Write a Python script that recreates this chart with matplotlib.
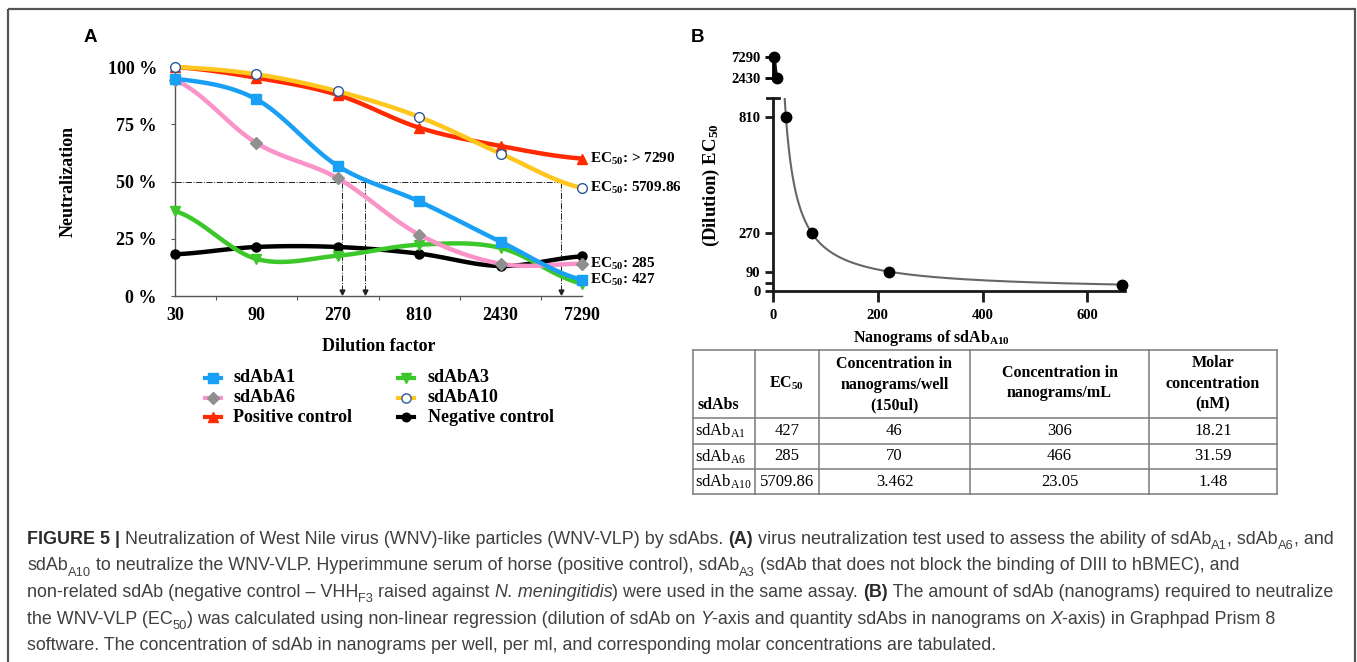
import matplotlib
matplotlib.use("Agg")
import matplotlib.pyplot as plt
import numpy as np
from matplotlib.patches import Rectangle

plt.rcParams["font.family"] = "Liberation Serif"
plt.rcParams["mathtext.fontset"] = "custom"
plt.rcParams["mathtext.rm"] = "Liberation Serif"
plt.rcParams["mathtext.bf"] = "Liberation Serif:bold"
plt.rcParams["mathtext.it"] = "Liberation Serif:italic"

W, H = 1357, 662

# ---- panel A data (percent neutralization per dilution) ----
dilutions = ["30", "90", "270", "810", "2430", "7290"]
sdAbA1 = [94.9, 85.9, 56.8, 41.3, 23.7, 7.1]
sdAbA6 = [94.2, 66.8, 51.4, 26.8, 14.1, 14.1]
sdAbA3 = [37.1, 16.2, 17.6, 22.4, 21.0, 5.4]
sdAbA10 = [100.0, 96.8, 89.4, 78.2, 62.2, 47.2]
pos_ctrl = [100.0, 95.3, 87.8, 73.5, 65.5, 60.0]
neg_ctrl = [18.2, 21.4, 21.4, 18.5, 13.1, 17.3]
ec50_drop_x = [2.05, 2.33, 4.74]   # where the 50 % lines drop to the axis (category units)

# ---- panel B data ----
b_nanograms = [666, 222, 74, 24.7, 8.2, 2.74]
b_dilution = [30, 90, 270, 810, 2430, 7290]

# ---- table ----
tbl_names = [r"sdAb$_{\mathrm{A1}}$", r"sdAb$_{\mathrm{A6}}$", r"sdAb$_{\mathrm{A10}}$"]
tbl_ec50 = ["427", "285", "5709.86"]
tbl_well = ["46", "70", "3.462"]
tbl_ml = ["306", "466", "23.05"]
tbl_molar = ["18.21", "31.59", "1.48"]


def smooth(y, n=24):
    # catmull-rom, like excel's smoothed lines
    p = np.asarray(y, float)
    pad = np.r_[p[0], p, p[-1]]
    xs, ys = [], []
    t = np.linspace(0, 1, n, endpoint=False)
    for i in range(len(p) - 1):
        p0, p1, p2, p3 = pad[i:i + 4]
        ys.append(0.5 * (2 * p1 + (p2 - p0) * t + (2 * p0 - 5 * p1 + 4 * p2 - p3) * t ** 2
                         + (3 * p1 - p0 - 3 * p2 + p3) * t ** 3))
        xs.append(i + t)
    xs.append([len(p) - 1])
    ys.append([p[-1]])
    return np.concatenate(xs), np.concatenate(ys)


fig = plt.figure(figsize=(W / 100, H / 100), dpi=100)
bg = fig.add_axes([0, 0, 1, 1])
bg.set_xlim(0, W)
bg.set_ylim(H, 0)
bg.axis("off")
bg.add_patch(Rectangle((8, 9), 1347, 700, fill=False, edgecolor="#555555", lw=1.6))

# ================= panel A =================
series = [
    ("sdAbA1", sdAbA1, "#19a0f5", "s", "#19a0f5", "#19a0f5", 7),
    ("sdAbA6", sdAbA6, "#f993c8", "D", "#8f8f8f", "#8f8f8f", 6.5),
    ("Positive control", pos_ctrl, "#ff2a00", "^", "#ff2a00", "#ff2a00", 7),
    ("sdAbA3", sdAbA3, "#3cc82a", "v", "#3cc82a", "#3cc82a", 7),
    ("sdAbA10", sdAbA10, "#ffc61e", "o", "white", "#2a5a9a", 7),
    ("Negative control", neg_ctrl, "#000000", "o", "#000000", "#000000", 6.5),
]
draw_order = [5, 3, 2, 4, 1, 0]

axA = fig.add_axes([175 / W, 1 - 296 / H, (582 - 175) / W, (296 - 67) / H])
axA.set_xlim(0, 5)
axA.set_ylim(0, 100)
for k in draw_order:
    name, vals, lc, m, mfc, mec, ms = series[k]
    sx, sy = smooth(vals)
    axA.plot(sx, sy, color=lc, lw=3.2, solid_capstyle="round", clip_on=False, zorder=3)
    axA.plot(range(len(vals)), vals, ls="none", marker=m, mfc=mfc, mec=mec, ms=ms,
             mew=1.0, clip_on=False, zorder=4)

# EC50 guide lines
axA.plot([0, max(ec50_drop_x)], [50, 50], ls="-.", color="#222222", lw=0.7, zorder=2)
for xd in ec50_drop_x:
    axA.plot([xd, xd], [50, 1.5], ls="-.", color="#222222", lw=0.7, zorder=2)
    axA.plot(xd, 1.8, marker="v", color="#222222", ms=3.5, zorder=2)

ec50_text = [(pos_ctrl, r"EC$_{\mathbf{50}}$: > 7290"), (sdAbA10, r"EC$_{\mathbf{50}}$: 5709.86"),
             (sdAbA6, r"EC$_{\mathbf{50}}$: 285"), (sdAbA1, r"EC$_{\mathbf{50}}$: 427")]
for vals, txt in ec50_text:
    axA.annotate(txt, (5, vals[-1]), xytext=(6, 0), textcoords="offset points",
                 fontsize=11, weight="bold", va="center", ha="left")

axA.spines[["top", "right"]].set_visible(False)
for s in ("left", "bottom"):
    axA.spines[s].set_color("#555555")
    axA.spines[s].set_linewidth(1.0)
axA.set_yticks([0, 25, 50, 75, 100], ["0 %", "25 %", "50 %", "75 %", "100 %"])
axA.set_xticks(range(6), dilutions)
axA.set_xticks(np.arange(0.5, 5, 1), minor=True)
axA.tick_params(axis="y", length=3, width=0.8, color="#555555", pad=10, labelsize=13)
axA.tick_params(axis="x", which="major", length=0, pad=8, labelsize=13)
axA.tick_params(axis="x", which="minor", length=3, width=0.8, color="#555555")
for lab in axA.get_xticklabels() + axA.get_yticklabels():
    lab.set_fontweight("bold")
axA.set_xlabel("Dilution factor", fontsize=13, weight="bold", labelpad=10)
axA.set_ylabel("Neutralization", fontsize=13, weight="bold", labelpad=22)

# legend (two columns, drawn by hand to match the tight rows)
leg_cols = [(213, 233), (406, 428)]
leg_rows = [378, 397.5, 417]
for k, (name, vals, lc, m, mfc, mec, ms) in enumerate(series):
    mx, tx = leg_cols[k // 3]
    yy = leg_rows[k % 3]
    bg.plot([mx - 8, mx + 8], [yy, yy], color=lc, lw=3)
    bg.plot(mx, yy, marker=m, mfc=mfc, mec=mec, ms=ms * 0.95, mew=1.0)
    bg.text(tx, yy, name, fontsize=13, weight="bold", va="center", ha="left")

# ================= panel B =================
bn = np.array(b_nanograms, float)
bd = np.array(b_dilution, float)
a_fit = np.sum(bd / bn) / np.sum(1 / bn ** 2)   # y = a / x
xc = np.geomspace(bn.min(), 672, 600)

axB = fig.add_axes([773 / W, 1 - 291 / H, (1125 - 773) / W, (291 - 98) / H])
axB.set_xlim(0, 672)
axB.set_ylim(0, 898)
axB.plot(xc, a_fit / xc, color="#666666", lw=1.5, zorder=2)
low = bd < 898
axB.plot(bn[low], bd[low], "o", color="black", ms=7.5, clip_on=False, zorder=3)
axB.spines[["top", "right"]].set_visible(False)
for s in ("left", "bottom"):
    axB.spines[s].set_linewidth(2)
    axB.spines[s].set_color("#1a1a1a")
axB.set_yticks([0, 90, 270, 810])
axB.set_yticks([37], minor=True)
axB.set_xticks([0, 200, 400, 600])
axB.tick_params(axis="both", which="both", width=2, color="#1a1a1a", labelsize=10.5)
axB.tick_params(axis="y", which="both", length=6, pad=3)
axB.tick_params(axis="x", length=8, pad=5)
for lab in axB.get_xticklabels() + axB.get_yticklabels():
    lab.set_fontweight("bold")
axB.plot([-0.018, 0.018], [1, 1], transform=axB.transAxes, color="#1a1a1a", lw=2, clip_on=False)
axB.set_xlabel(r"Nanograms of sdAb$_{\mathbf{A10}}$", fontsize=11.5, weight="bold", labelpad=2)
axB.xaxis.set_label_coords(0.45, -0.19)
axB.set_ylabel(r"(Dilution) EC$_{\mathbf{50}}$", fontsize=13.5, weight="bold", labelpad=10)
axB.yaxis.set_label_coords(-0.145, 0.55)

axBt = fig.add_axes([773 / W, 1 - 78 / H, (1125 - 773) / W, (78 - 57) / H])
axBt.set_xlim(0, 672)
axBt.set_ylim(2430, 7290)
axBt.patch.set_alpha(0)
axBt.plot(xc, a_fit / xc, color="#111111", lw=2.5, zorder=2)
axBt.plot(bn[~low], bd[~low], "o", color="black", ms=7.5, clip_on=False, zorder=3)
axBt.spines[["top", "right", "bottom"]].set_visible(False)
axBt.spines["left"].set_linewidth(2)
axBt.set_xticks([])
axBt.set_yticks([2430, 7290])
axBt.tick_params(axis="y", length=6, width=2, pad=3, labelsize=10.5)
for lab in axBt.get_yticklabels():
    lab.set_fontweight("bold")

# panel letters
bg.text(90, 37, "A", family="Liberation Sans", weight="bold", fontsize=13.5, ha="center", va="center")
bg.text(698, 37, "B", family="Liberation Sans", weight="bold", fontsize=13.5, ha="center", va="center")

# ================= table =================
col_x = [693, 755, 819, 970, 1149, 1277]
row_y = [350, 418, 444, 469, 494]
for x in col_x:
    bg.plot([x, x], [row_y[0], row_y[-1]], color="#7a7a7a", lw=1.1)
for y in row_y:
    bg.plot([col_x[0], col_x[-1]], [y, y], color="#7a7a7a", lw=1.1)

hdr_mid = (row_y[0] + row_y[1]) / 2
bg.text(col_x[0] + 4, 405, "sdAbs", fontsize=11.5, weight="bold", va="center", ha="left")
bg.text((col_x[1] + col_x[2]) / 2, hdr_mid - 1, r"EC$_{\mathbf{50}}$", fontsize=11.5, weight="bold",
        va="center", ha="center")
bg.text((col_x[2] + col_x[3]) / 2, hdr_mid + 1, "Concentration in\nnanograms/well\n(150ul)", fontsize=11.5,
        weight="bold", va="center", ha="center", linespacing=1.38)
bg.text((col_x[3] + col_x[4]) / 2, hdr_mid - 1, "Concentration in\nnanograms/mL", fontsize=11.5,
        weight="bold", va="center", ha="center", linespacing=1.38)
bg.text((col_x[4] + col_x[5]) / 2, hdr_mid, "Molar\nconcentration\n(nM)", fontsize=11.5,
        weight="bold", va="center", ha="center", linespacing=1.38)
for i in range(3):
    yc = (row_y[i + 1] + row_y[i + 2]) / 2
    bg.text(col_x[0] + 2, yc, tbl_names[i], fontsize=12, va="center", ha="left")
    for j, col in enumerate([tbl_ec50, tbl_well, tbl_ml, tbl_molar]):
        bg.text((col_x[j + 1] + col_x[j + 2]) / 2, yc, col[i], fontsize=12, va="center", ha="center")

# ================= caption =================
renderer = fig.canvas.get_renderer()
CAP = 12.9


def text_w(txt, **kw):
    t = bg.text(0, 0, txt + "|", **kw)
    w = t.get_window_extent(renderer).width
    t.remove()
    t = bg.text(0, 0, "|", **kw)
    w -= t.get_window_extent(renderer).width
    t.remove()
    return w


def draw_runs(x, y, runs):
    for txt, sty in runs:
        kw = dict(family="Liberation Sans", color="#2b2b2b" if sty == "b" else "#404040",
                  fontsize=CAP * 0.72 if sty == "s" else CAP,
                  weight="bold" if sty == "b" else "normal",
                  style="italic" if sty == "i" else "normal")
        yy = y + (CAP * 0.3 * 100 / 72 if sty == "s" else 0)
        bg.text(x, yy, txt, va="baseline", ha="left", **kw)
        x += text_w(txt, **kw)


caption = [
    [("FIGURE 5 |", "b"), (" Neutralization of West Nile virus (WNV)-like particles (WNV-VLP) by sdAbs. ", "n"),
     ("(A)", "b"), (" virus neutralization test used to assess the ability of sdAb", "n"), ("A1", "s"),
     (", sdAb", "n"), ("A6", "s"), (", and", "n")],
    [("sdAb", "n"), ("A10", "s"),
     (" to neutralize the WNV-VLP. Hyperimmune serum of horse (positive control), sdAb", "n"), ("A3", "s"),
     (" (sdAb that does not block the binding of DIII to hBMEC), and", "n")],
    [("non-related sdAb (negative control \u2013 VHH", "n"), ("F3", "s"), (" raised against ", "n"),
     ("N. meningitidis", "i"), (") were used in the same assay. ", "n"), ("(B)", "b"),
     (" The amount of sdAb (nanograms) required to neutralize", "n")],
    [("the WNV-VLP (EC", "n"), ("50", "s"),
     (") was calculated using non-linear regression (dilution of sdAb on ", "n"), ("Y", "i"),
     ("-axis and quantity sdAbs in nanograms on ", "n"), ("X", "i"), ("-axis) in Graphpad Prism 8", "n")],
    [("software. The concentration of sdAb in nanograms per well, per ml, and corresponding molar "
      "concentrations are tabulated.", "n")],
]
for i, runs in enumerate(caption):
    draw_runs(27, 544 + i * 26.5, runs)

fig.savefig("out.png", dpi=100)
